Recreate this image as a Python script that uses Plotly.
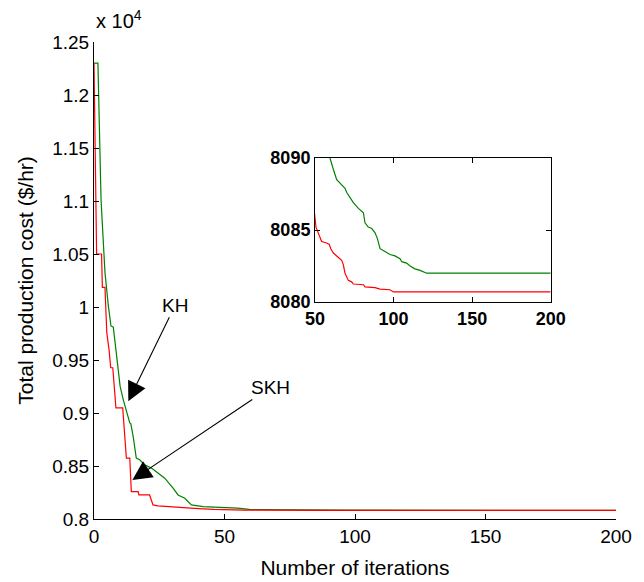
import plotly.graph_objects as go

# KH (green) curve vertices: iteration, total production cost ($/hr)
kh_iter = [0, 1.5, 2.7, 3.6, 4.2, 5.5, 6.5, 7.4, 8.7, 10, 11.2, 12.9, 13.7, 14.1, 15, 16.2,
           17.5, 19.4, 22, 24.5, 27.1, 30.3, 32.2, 34.8, 37.3, 41.8, 50, 55, 59.5,
           61.7, 63.8, 65.9, 69.1, 70.2, 72.3, 74.4, 77.6, 80.8, 81.8, 83.9, 86.1, 88.2,
           89.7, 91.4, 94.5, 97.7, 100.9, 104.1, 105.2, 108.3, 110.5, 113.6, 116.8, 121.1, 200]
kh_cost = [12300, 12300, 11009, 10520, 10327, 10010, 9821, 9810, 9506, 9253, 9127, 8990, 8906, 8900,
           8779, 8575, 8559, 8511, 8480, 8433, 8385, 8291, 8227, 8196, 8133, 8117, 8110, 8102, 8090,
           8089.2, 8088.5, 8088.26, 8087.9, 8087.6, 8087.2, 8086.9, 8086.5, 8086.2, 8085.5, 8085.2,
           8085.1, 8084.8, 8084.4, 8083.7, 8083.5, 8083.3, 8083.2, 8083.0, 8082.8, 8082.7, 8082.5,
           8082.3, 8082.2, 8082.0, 8082.0]

# SKH (red) curve vertices
skh_iter = [0, 1, 2.9, 3.2, 4.2, 4.9, 5.75, 6.4, 7.2, 8.4, 11, 12.4, 13.7, 14.3, 16.9, 17.2, 21.3,
            22.6, 24.5, 29, 30.3, 35, 40, 46, 50.6, 52.1, 54.2, 57.4, 59.1, 60, 61.7, 63.8, 65.9,
            67, 68, 69.1, 71.2, 73.3, 74.4, 80.8, 81.8, 88.2, 91.4, 97.7, 99.9, 200]
skh_cost = [12300, 10500, 10500, 10185, 10185, 9758, 9600, 9427, 9427, 9048, 9048, 8575, 8575, 8259,
            8259, 8227, 8227, 8133, 8123, 8116, 8107, 8104, 8098, 8090, 8085.2, 8084.8, 8084.2,
            8084.1, 8084.0, 8083.7, 8083.4, 8083.2, 8083.0, 8082.9, 8082.6, 8082.0, 8081.5, 8081.4,
            8081.25, 8081.2, 8081.05, 8081.0, 8080.9, 8080.85, 8080.7, 8080.7]

x_ticks = [0, 50, 100, 150, 200]
y_ticks = [8000, 8500, 9000, 9500, 10000, 10500, 11000, 11500, 12000, 12500]
y_ticktext = ["0.8", "0.85", "0.9", "0.95", "1", "1.05", "1.1", "1.15", "1.2", "1.25"]
inset_x_ticks = [50, 100, 150, 200]
inset_y_ticks = [8080, 8085, 8090]

GREEN = "#008000"
RED = "#ff0000"
FONT = "Liberation Sans, Arial, sans-serif"

fig = go.Figure()
fig.add_trace(go.Scatter(x=kh_iter, y=kh_cost, mode="lines", line=dict(color=GREEN, width=1.2),
                         showlegend=False, hoverinfo="skip"))
fig.add_trace(go.Scatter(x=skh_iter, y=skh_cost, mode="lines", line=dict(color=RED, width=1.2),
                         showlegend=False, hoverinfo="skip"))
fig.add_trace(go.Scatter(x=kh_iter, y=kh_cost, mode="lines", line=dict(color=GREEN, width=1.2),
                         xaxis="x2", yaxis="y2", showlegend=False, hoverinfo="skip"))
fig.add_trace(go.Scatter(x=skh_iter, y=skh_cost, mode="lines", line=dict(color=RED, width=1.2),
                         xaxis="x2", yaxis="y2", showlegend=False, hoverinfo="skip"))

axis_common = dict(showgrid=False, zeroline=False, showline=True, linecolor="black", linewidth=1,
                   ticks="inside", ticklen=5, tickcolor="black", tickwidth=1)

# the page body adds an 8px margin, so the figure is 8px smaller than the window
fig.update_layout(
    width=636, height=574,
    margin=dict(l=86, r=28, t=34, b=63, autoexpand=False),
    paper_bgcolor="white", plot_bgcolor="white",
    font=dict(family=FONT, size=19, color="black"),
    xaxis=dict(range=[0, 200], tickvals=x_ticks, domain=[0, 1],
               title=dict(text="Number of iterations", font=dict(size=21), standoff=14),
               **axis_common),
    yaxis=dict(range=[8000, 12500], tickvals=y_ticks, ticktext=y_ticktext, domain=[0, 1],
               title=dict(text="Total production cost ($/hr)", font=dict(size=21), standoff=12),
               **axis_common),
    xaxis2=dict(range=[50, 200], tickvals=inset_x_ticks, domain=[0.4234, 0.8749], anchor="y2",
                mirror="allticks", tickfont=dict(size=18, family=FONT, weight="bold"),
                **axis_common),
    yaxis2=dict(range=[8080, 8090], tickvals=inset_y_ticks, domain=[0.4549, 0.7568], anchor="x2",
                mirror="allticks", tickfont=dict(size=18, family=FONT, weight="bold"),
                **axis_common),
)

annotations = [
    dict(text="x 10<sup>4</sup>", xref="paper", yref="paper", x=0, y=1.0, xanchor="left",
         yanchor="bottom", yshift=8, showarrow=False, font=dict(size=20)),
    dict(text="KH", x=13.15, y=9111, ax=31.1, ay=10017, xref="x", yref="y", axref="x", ayref="y",
         showarrow=True, arrowhead=2, arrowsize=3.5, arrowwidth=1.1, arrowcolor="black",
         font=dict(size=19)),
    dict(text="SKH", x=14.7, y=8369, ax=67.5, ay=9240, xref="x", yref="y", axref="x", ayref="y",
         showarrow=True, arrowhead=2, arrowsize=3.5, arrowwidth=1.1, arrowcolor="black",
         font=dict(size=19)),
]
fig.update_layout(annotations=annotations)

fig.write_html("out.html")
